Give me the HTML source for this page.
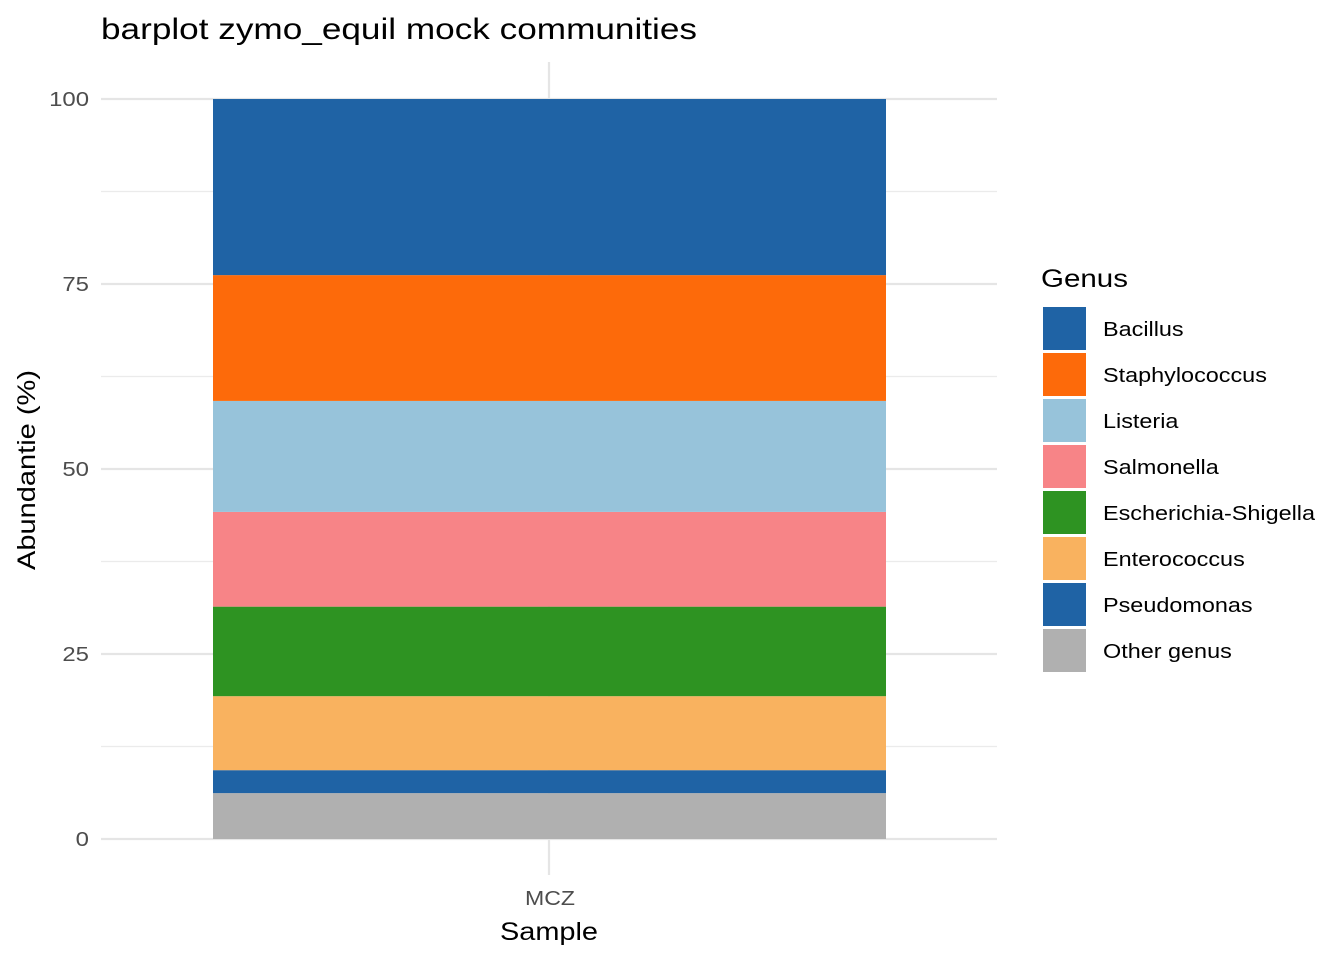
<!DOCTYPE html>
<html><head><meta charset="utf-8"><style>
body{margin:0;background:#fff;}
svg{display:block;font-family:"Liberation Sans",Arial,sans-serif;}
</style></head><body>
<svg id="chart" width="1344" height="960">
<text x="101" y="39" font-size="30" fill="#000" textLength="596" lengthAdjust="spacingAndGlyphs">barplot zymo_equil mock communities</text>
<g id="grid"></g><g id="bars"></g><g id="yticks"></g><g id="legend"></g>
<text x="525" y="905" font-size="20" fill="#4d4d4d" textLength="50" lengthAdjust="spacingAndGlyphs">MCZ</text>
<text x="500" y="940" font-size="25" fill="#000" textLength="98" lengthAdjust="spacingAndGlyphs">Sample</text>
<text transform="translate(35,570) rotate(-90)" font-size="25" fill="#000" textLength="200" lengthAdjust="spacingAndGlyphs">Abundantie (%)</text>
</svg>
<script>
const genera=["Bacillus","Staphylococcus","Listeria","Salmonella","Escherichia-Shigella","Enterococcus","Pseudomonas","Other genus"];
const values=[23.8,17.0,15.0,12.8,12.1,10.0,3.1,6.2];
const colors=["#1f63a5","#fd6a0a","#97c3da","#f78487","#2e9322","#f9b25f","#1f63a5","#b0b0b0"];
const yTicks=[0,25,50,75,100];
const NS="http://www.w3.org/2000/svg";
function mk(t,a,p){const e=document.createElementNS(NS,t);for(const k in a)e.setAttribute(k,a[k]);p.appendChild(e);return e;}
const y=v=>839-v*7.4;
const grid=document.getElementById('grid');
for(let v=12.5;v<100;v+=25){const l=mk('line',{x1:101,x2:997,y1:y(v),y2:y(v),stroke:'#ebebeb','stroke-width':1.2},grid);

}
const yt=document.getElementById('yticks');
yTicks.forEach(v=>{const l=mk('line',{x1:101,x2:997,y1:y(v),y2:y(v),stroke:'#e5e5e5','stroke-width':2.2},grid);


const s=String(v);
const t=mk('text',{x:89,y:y(v)+7,'font-size':20,fill:'#4d4d4d','text-anchor':'end',textLength:s.length*13.3,lengthAdjust:'spacingAndGlyphs'},yt);t.textContent=s;

});
const vl=mk('line',{x1:549,x2:549,y1:62,y2:875,stroke:'#e5e5e5','stroke-width':2.2},grid);


const bars=document.getElementById('bars');
let cum=0;
for(let i=values.length-1;i>=0;i--){const r=mk('rect',{x:213,width:673,y:y(cum+values[i]),height:values[i]*7.4,fill:colors[i]},bars);

cum+=values[i];}
const lg=document.getElementById('legend');
const lt=mk('text',{x:1041,y:287,'font-size':25,fill:'#000',textLength:87,lengthAdjust:'spacingAndGlyphs'},lg);lt.textContent='Genus';


genera.forEach((g,i)=>{const yy=307+i*46;
const r=mk('rect',{x:1043,y:yy,width:43,height:43,fill:colors[i]},lg);


const t=mk('text',{x:1103,y:yy+29,'font-size':20,fill:'#000'},lg);t.textContent=g;


const w=t.getComputedTextLength();t.setAttribute('textLength',w*1.17);t.setAttribute('lengthAdjust','spacingAndGlyphs');});
</script>
</body></html>
